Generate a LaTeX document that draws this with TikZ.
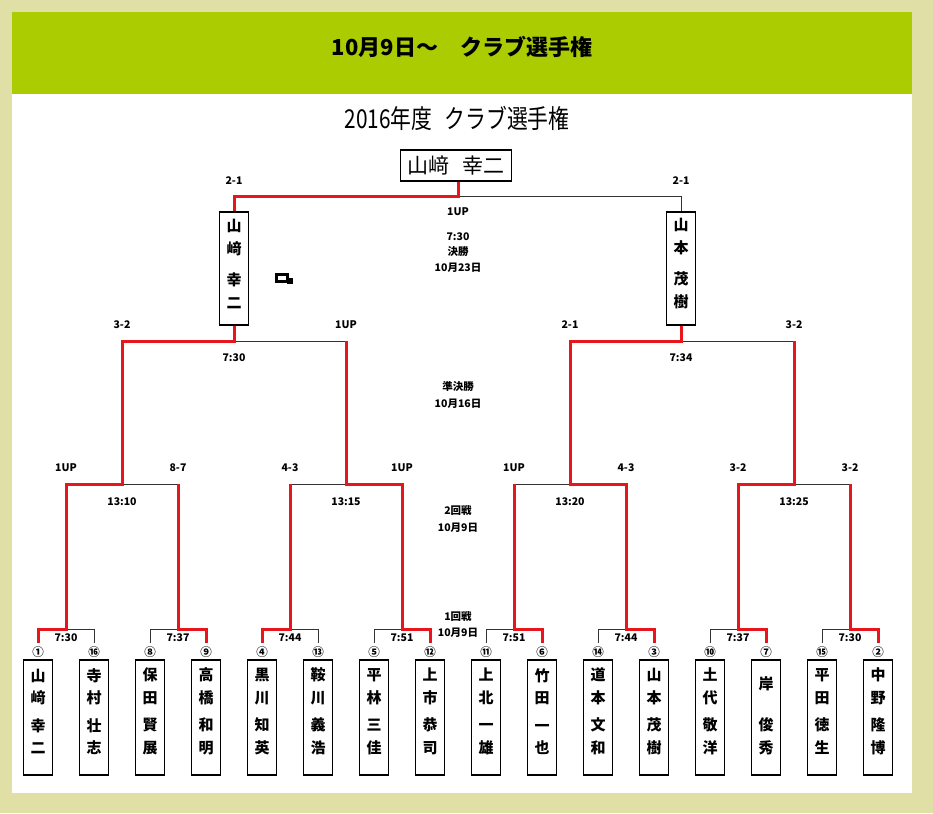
\documentclass[tikz,border=0pt]{standalone}
\usepackage{fontspec}
\newfontfamily\jp{Noto Sans CJK JP}
\usetikzlibrary{calc}
\definecolor{bgk}{RGB}{224,223,165}
\definecolor{hdr}{RGB}{171,204,0}
\definecolor{rd}{RGB}{230,22,28}
\newcommand\nmfour[4]{#1\\#2\\[5pt]#3\\#4}
\newcommand\nmthree[3]{#1\\[18.5pt]#2\\#3}
\newcommand\fnm[4]{#1\\#2\\[8pt]#3\\#4}
\begin{document}
\begin{tikzpicture}[x=1pt,y=-1pt,
  every node/.style={font=\jp},
  bline/.style={draw=black!80,line width=1pt},
  win/.style={draw=rd,line width=3pt,line join=miter},
  namebox/.style={draw=black,line width=1.8pt,minimum width=29pt,minimum height=115pt,inner sep=0pt},
  fbox/.style={draw=black,line width=1.8pt,minimum width=29pt,minimum height=113pt,inner sep=0pt},
  nametext/.style={inner sep=0pt,align=center,font=\jp\bfseries\fontsize{15}{22.5}\selectfont},
  ftext/.style={inner sep=0pt,align=center,font=\jp\bfseries\fontsize{15}{23}\selectfont},
  seed/.style={inner sep=0pt,font=\jp\bfseries\fontsize{11.5}{13}\selectfont},
  lab/.style={inner sep=0pt,font=\jp\bfseries\fontsize{10.5}{12}\selectfont},
]
% background and panel
\fill[bgk] (0,0) rectangle (933,813);
\fill[white] (12,12) rectangle (912,793);
\fill[hdr] (12,12) rectangle (912,94);
\useasboundingbox (0,0) rectangle (933,813);

% header and title
\node[font=\jp\bfseries\fontsize{22}{26}\selectfont] (head) at (462,47) {10月9日～　クラブ選手権};
\node[font=\jp\fontsize{26}{30}\selectfont] (title) at (457,118) {\scalebox{0.8}[1]{2016年度\hspace{0.6em}クラブ選手権}};

% champion and finalists
\node[draw=black,line width=1.8pt,minimum width=111pt,minimum height=31pt,inner sep=0pt,font=\jp\fontsize{21}{24}\selectfont] (champ) at (456,165.5) {山﨑\hspace{0.6em}幸二};
\node[fbox] (f1) at (234,268.5) {};
\node[ftext] (f1t) at (234,264) {\fnm{山}{﨑}{幸}{二}};
\node[fbox] (f2) at (681,268.5) {};
\node[ftext] (f2t) at (681,264) {\fnm{山}{本}{茂}{樹}};

% small mark
\draw[line width=3pt] (276.5,274.5) rectangle (287.5,281);
\fill (287,278) rectangle (292.5,283.5);

% players
\foreach \i/\sd/\ny/\nt in {
1/①/711.5/\nmfour{山}{﨑}{幸}{二},
2/⑯/711.5/\nmfour{寺}{村}{壮}{志},
3/⑧/711.5/\nmfour{保}{田}{賢}{展},
4/⑨/711.5/\nmfour{高}{橋}{和}{明},
5/④/711.5/\nmfour{黒}{川}{知}{英},
6/⑬/711.5/\nmfour{鞍}{川}{義}{浩},
7/⑤/711.5/\nmfour{平}{林}{三}{佳},
8/⑫/711.5/\nmfour{上}{市}{恭}{司},
9/⑪/711.5/\nmfour{上}{北}{一}{雄},
10/⑥/711.5/\nmfour{竹}{田}{一}{也},
11/⑭/711.5/\nmfour{道}{本}{文}{和},
12/③/711.5/\nmfour{山}{本}{茂}{樹},
13/⑩/711.5/\nmfour{土}{代}{敬}{洋},
14/⑦/716/\nmthree{岸}{俊}{秀},
15/⑮/711.5/\nmfour{平}{田}{徳}{生},
16/②/711.5/\nmfour{中}{野}{隆}{博}}{
  \pgfmathsetmacro\px{38+56*(\i-1)}
  \node[namebox] (p\i) at (\px,717.5) {};
  \node[nametext] (n\i) at (\px,\ny) {\nt};
  \node[seed] (s\i) at (\px,652) {\sd};
  \coordinate (t\i) at (\px,629);
  \coordinate (b\i) at (\px,643);
}

% first round junctions and times
\foreach \j/\tm in {1/7:30,2/7:37,3/7:44,4/7:51,5/7:51,6/7:44,7/7:37,8/7:30}{
  \pgfmathsetmacro\mx{66+112*(\j-1)}
  \coordinate (m\j) at (\mx,629);
  \coordinate (v\j) at (\mx,484);
  \node[lab] (tma\j) at (\mx,638) {\tm};
}
% second round scores
\foreach \j/\sc in {1/1UP,2/8-7,3/4-3,4/1UP,5/1UP,6/4-3,7/3-2,8/3-2}{
  \pgfmathsetmacro\mx{66+112*(\j-1)}
  \node[lab] (sca\j) at (\mx,468) {\sc};
}
% second round junctions and times
\foreach \k/\tm in {1/13:10,2/13:15,3/13:20,4/13:25}{
  \pgfmathsetmacro\mx{122+224*(\k-1)}
  \coordinate (w\k) at (\mx,484);
  \coordinate (q\k) at (\mx,341);
  \node[lab] (tmb\k) at (\mx,502) {\tm};
}
% semifinal scores
\foreach \k/\sc in {1/3-2,2/1UP,3/2-1,4/3-2}{
  \pgfmathsetmacro\mx{122+224*(\k-1)}
  \node[lab] (scb\k) at (\mx,325) {\sc};
}
\coordinate (h1) at (234,341);
\coordinate (h2) at (681,341);
\node[lab] (tmc1) at (234,358) {7:30};
\node[lab] (tmc2) at (681,358) {7:34};
% final
\coordinate (fL) at (234,196);
\coordinate (fR) at (681,196);
\coordinate (fM) at (458,196);
\node[lab] (scc1) at (234,181) {2-1};
\node[lab] (scc2) at (681,181) {2-1};

% centre column
\node[lab] (c1) at (458,212) {1UP};
\node[lab] (c2) at (458,237) {7:30};
\node[lab] (c3) at (458,252) {決勝};
\node[lab] (c4) at (458,268) {10月23日};
\node[lab] (c5) at (458,387) {準決勝};
\node[lab] (c6) at (458,404) {10月16日};
\node[lab] (c7) at (458,511) {2回戦};
\node[lab] (c8) at (458,528) {10月9日};
\node[lab] (c9) at (458,617) {1回戦};
\node[lab] (c10) at (458,633) {10月9日};

% thin bracket lines
\foreach \a/\b in {1/2,3/4,5/6,7/8,9/10,11/12,13/14,15/16}{
  \draw[bline] (b\a) -- (t\a) -- (t\b) -- (b\b);
}
\foreach \a/\b in {1/2,3/4,5/6,7/8}{
  \draw[bline] (v\a) -- (v\b);
}
\draw[bline] (q1) -- (q2);
\draw[bline] (q3) -- (q4);
\draw[bline] (f1.north) -- (fL) -- (fR) -- (f2.north);

% winners' paths
\draw[win] (b1) -- (t1) -- (m1) -- (v1) -- (w1) -- (q1) -- (h1) -- (f1.south);
\draw[win] (f1.north) -- (fL) -- (fM) -- (fM |- champ.south);
\draw[win] (b4) -- (t4) -- (m2) -- (v2);
\draw[win] (b5) -- (t5) -- (m3) -- (v3);
\draw[win] (b8) -- (t8) -- (m4) -- (v4) -- (w2) -- (q2);
\draw[win] (b10) -- (t10) -- (m5) -- (v5);
\draw[win] (b12) -- (t12) -- (m6) -- (v6) -- (w3) -- (q3) -- (h2) -- (f2.south);
\draw[win] (b14) -- (t14) -- (m7) -- (v7) -- (w4) -- (q4);
\draw[win] (b16) -- (t16) -- (m8) -- (v8);
\end{tikzpicture}
\end{document}
